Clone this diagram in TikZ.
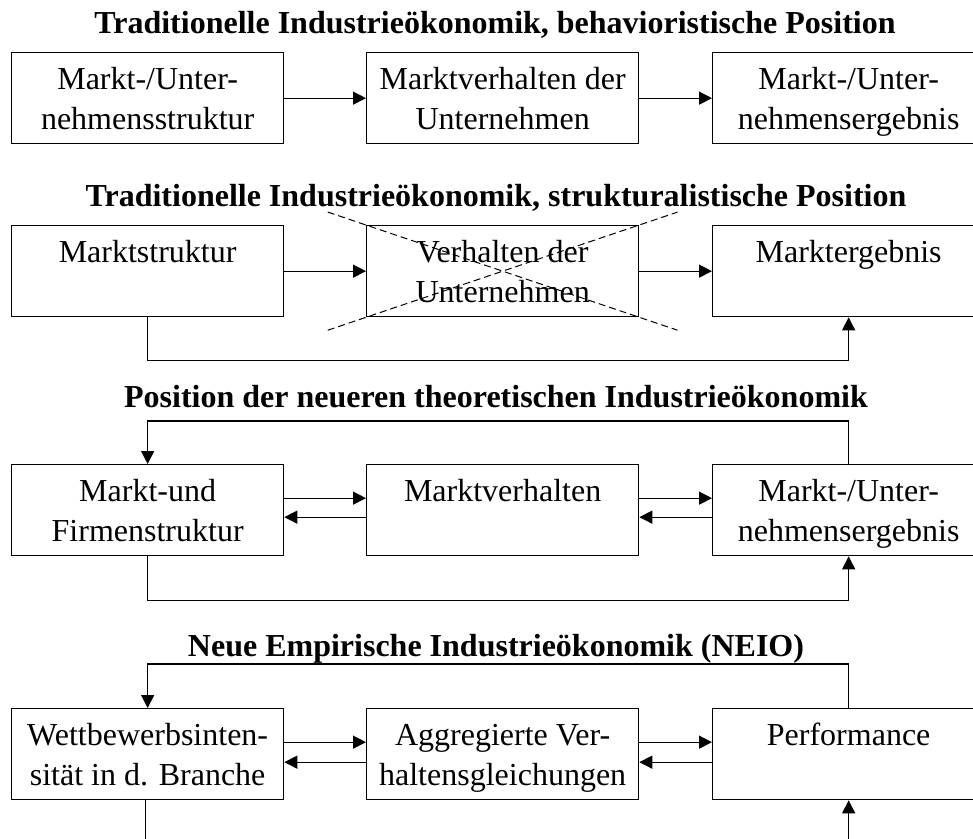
\documentclass[tikz,border=0pt]{standalone}
\usepackage{fontspec}
\setmainfont{Liberation Serif}
\usetikzlibrary{arrows.meta,calc}

% text of a block: top aligned, centred, fixed block size
\newcommand\celltext[1]{\parbox[c][91pt][t]{272pt}{\centering\rule{0pt}{37pt}#1}}

\begin{document}
\begin{tikzpicture}[x=1pt,y=-1pt,
  blockbox/.style={draw, line width=1.3pt, inner sep=0pt, anchor=north west,
    font=\fontsize{32}{40}\selectfont},
  heading/.style={anchor=base, inner sep=0pt, font=\fontsize{32}{36}\selectfont\bfseries},
  conn/.style={line width=1.3pt},
  arr/.style={conn, -{Triangle[length=13pt,width=13pt]}},
  crossline/.style={line width=1pt, dash pattern=on 7pt off 4pt}]
\useasboundingbox (0,0) rectangle (973,838);

% --- behavioristische Position
\node[heading] (t1) at (495,33) {Traditionelle Industrieökonomik, behavioristische Position};
\node[blockbox] (a1) at (11,52)  {\celltext{Markt-/Unter-\\nehmensstruktur}};
\node[blockbox] (b1) at (366,52) {\celltext{Marktverhalten der\\Unternehmen}};
\node[blockbox] (c1) at (712,52) {\celltext{Markt-/Unter-\\nehmensergebnis}};
\draw[arr] (a1.east) -- (b1.west);
\draw[arr] (b1.east) -- (c1.west);

% --- strukturalistische Position
\node[heading] (t2) at (496,206) {Traditionelle Industrieökonomik, strukturalistische Position};
\node[blockbox] (a2) at (11,225)  {\celltext{Marktstruktur}};
\node[blockbox] (b2) at (366,225) {\celltext{Verhalten der\\Unternehmen}};
\node[blockbox] (c2) at (712,225) {\celltext{Marktergebnis}};
\draw[arr] (a2.east) -- (b2.west);
\draw[arr] (b2.east) -- (c2.west);
\draw[crossline] ($(b2.north west)!-0.14!(b2.south east)$) -- ($(b2.south east)!-0.14!(b2.north west)$);
\draw[crossline] ($(b2.south west)!-0.14!(b2.north east)$) -- ($(b2.north east)!-0.14!(b2.south west)$);
\draw[arr] (a2.south) -- ++(0,43) -| (c2.south);

% --- neuere theoretische Industrieökonomik
\node[heading] (t3) at (496,407) {Position der neueren theoretischen Industrieökonomik};
\node[blockbox] (a3) at (11,464)  {\celltext{Markt-und\\Firmenstruktur}};
\node[blockbox] (b3) at (366,464) {\celltext{Marktverhalten}};
\node[blockbox] (c3) at (712,464) {\celltext{Markt-/Unter-\\nehmensergebnis}};
\draw[arr] ($(a3.east)+(0,-12)$) -- ($(b3.west)+(0,-12)$);
\draw[arr] ($(b3.west)+(0,7)$) -- ($(a3.east)+(0,7)$);
\draw[arr] ($(b3.east)+(0,-12)$) -- ($(c3.west)+(0,-12)$);
\draw[arr] ($(c3.west)+(0,7)$) -- ($(b3.east)+(0,7)$);
\draw[arr] (c3.north) -- ++(0,-43) -| (a3.north);
\draw[arr] (a3.south) -- ++(0,44) -| (c3.south);

% --- NEIO
\node[heading] (t4) at (496,656) {Neue Empirische Industrieökonomik (NEIO)};
\node[blockbox] (a4) at (11,708)  {\celltext{Wettbewerbsinten-\\sität in d. Branche}};
\node[blockbox] (b4) at (366,708) {\celltext{Aggregierte Ver-\\haltensgleichungen}};
\node[blockbox] (c4) at (712,708) {\celltext{Performance}};
\draw[arr] ($(a4.east)+(0,-12)$) -- ($(b4.west)+(0,-12)$);
\draw[arr] ($(b4.west)+(0,8)$) -- ($(a4.east)+(0,8)$);
\draw[arr] ($(b4.east)+(0,-12)$) -- ($(c4.west)+(0,-12)$);
\draw[arr] ($(c4.west)+(0,8)$) -- ($(b4.east)+(0,8)$);
\draw[arr] (c4.north) -- ++(0,-44) -| (a4.north);
\draw[arr] ([xshift=-2pt]a4.south) -- ++(0,80) -| (c4.south);
\end{tikzpicture}
\end{document}
